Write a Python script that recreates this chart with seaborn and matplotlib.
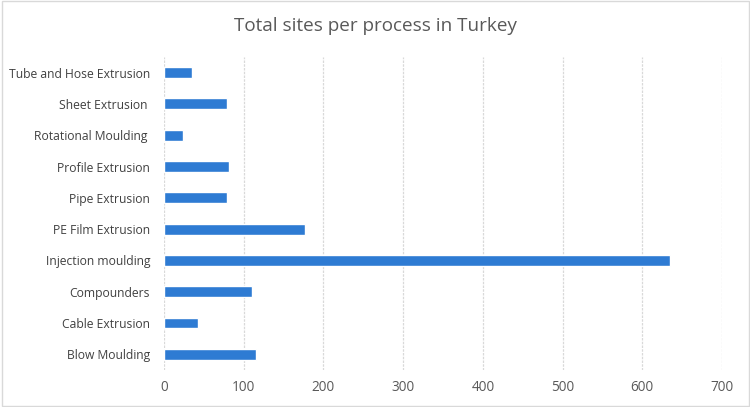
import matplotlib
matplotlib.use("Agg")
import matplotlib.pyplot as plt
import seaborn as sns
import pandas as pd

# Data (top to bottom)
processes = [
    "Tube and Hose Extrusion",
    "Sheet Extrusion ",
    "Rotational Moulding ",
    "Profile Extrusion",
    "Pipe Extrusion",
    "PE Film Extrusion",
    "Injection moulding",
    "Compounders",
    "Cable Extrusion",
    "Blow Moulding",
]
sites = [35, 79, 24, 81, 79, 177, 635, 110, 43, 115]

df = pd.DataFrame({"Process": processes, "Sites": sites})

sns.set_theme(style="white")
plt.rcParams["font.family"] = ["Open Sans", "DejaVu Sans"]

fig = plt.figure(figsize=(7.5, 4.07), dpi=100)
ax = fig.add_axes([0.2187, 0.091, 0.744, 0.769])

sns.barplot(data=df, x="Sites", y="Process", color="#2E7BD3", width=0.35,
            saturation=1, ax=ax, orient="h")

ax.set_xlim(0, 700)
ax.set_ylim(9.5, -0.5)
ax.set_xticks(range(0, 701, 100))
ax.set_xlabel("")
ax.set_ylabel("")
ax.grid(axis="x", color="#d9d9d9", linestyle=(0, (2, 1)), linewidth=0.9)
ax.set_axisbelow(True)
for s in ax.spines.values():
    s.set_visible(False)
ax.tick_params(axis="x", colors="#595959", labelsize=9.8, length=0, pad=7)
ax.tick_params(axis="y", colors="#404040", labelsize=8.7, length=0, pad=10)
for lbl in ax.get_xticklabels():
    lbl.set_color("#595959")
for lbl in ax.get_yticklabels():
    lbl.set_color("#404040")

fig.text(0.5, 0.935, "Total sites per process in Turkey", ha="center", va="center",
         fontsize=13.6, color="#595959")

# light border around the chart area
fig.patches.append(plt.Rectangle((0.002, 0.002), 0.996, 0.996, transform=fig.transFigure,
                                 fill=False, edgecolor="#d9d9d9", linewidth=1))

fig.savefig("out.png", dpi=100)
